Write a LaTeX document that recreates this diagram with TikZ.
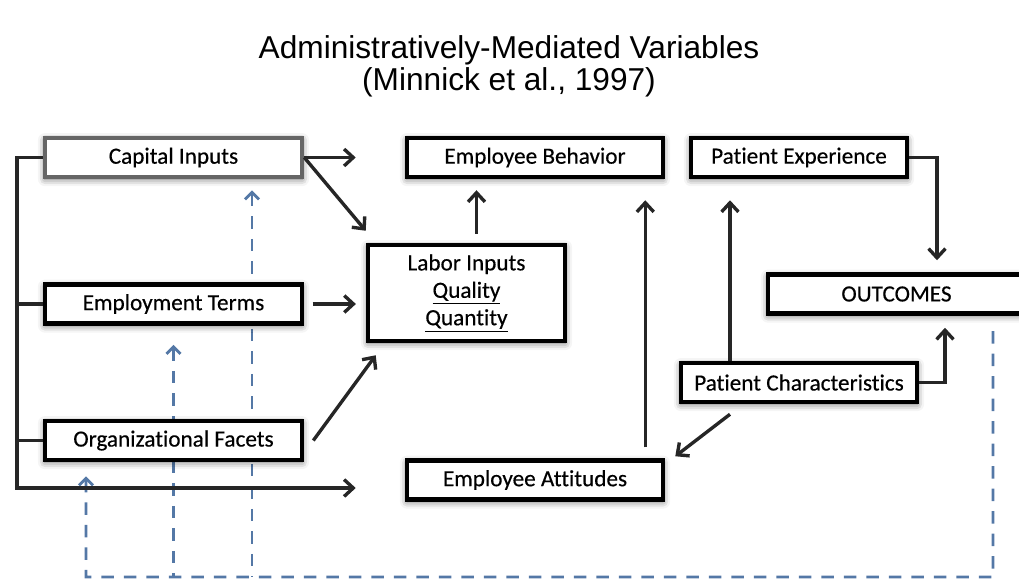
\documentclass[tikz,border=0pt]{standalone}
\usepackage{fontspec}
\setmainfont{Carlito}[Ligatures=NoCommon]
\newfontfamily\titlefont{Liberation Sans}
\usetikzlibrary{arrows.meta,shadows.blur,backgrounds}
\definecolor{fbblue}{RGB}{84,120,166}

\begin{document}
\begin{tikzpicture}[x=0.025cm,y=-0.025cm]
    \tikzstyle{box}=[draw, line width=3.2pt, fill=white, minimum width=6.425cm, minimum height=0.975cm, inner sep=0pt, font=\fontsize{16.5}{19.5}\selectfont\addfontfeature{FakeBold=0.4}, blur shadow={shadow xshift=0pt, shadow yshift=-1.5pt, shadow blur radius=5pt, shadow opacity=60}]
    \tikzstyle{arr}=[line width=2.4pt, black!85, -{Straight Barb[length=6.5pt,width=12pt]}]
    \tikzstyle{fb}=[line width=2.1pt, fbblue, dash pattern=on 9pt off 7pt]
    \tikzstyle{fbarr}=[fb, {Straight Barb[length=5pt,width=10pt]}-]

    \useasboundingbox (0,0) rectangle (1019,580);

    \node[font=\titlefont\fontsize{22.5}{22.8}\selectfont, align=center] (title) at (509,66) {Administratively-Mediated Variables\\(Minnick et al., 1997)};

    \node[box, draw=black!60] (cap) at (173.5,157.5) {Capital Inputs};
    \node[box] (emp) at (173.5,304) {Employment Terms};
    \node[box] (org) at (173.5,440.5) {Organizational Facets};
    \node[box, minimum width=4.925cm, minimum height=2.4cm, align=center] (labor) at (466.5,293) {Labor Inputs\\\underline{Quality}\\\underline{Quantity}};
    \node[box, minimum width=6.4cm] (behav) at (535,157.5) {Employee Behavior};
    \node[box, minimum width=6.4cm] (attit) at (535,480) {Employee Attitudes};
    \node[box, minimum width=5.4cm] (pexp) at (799,157.5) {Patient Experience};
    \node[box] (outc) at (896.5,294) {OUTCOMES};
    \node[box, minimum width=5.9cm] (pchar) at (799,382.5) {Patient Characteristics};

    \coordinate (bustop) at (17,157.5);
    \coordinate (busbot) at (17,488);
    \draw[arr] (cap.west) -- (bustop) -- (busbot) -- ([shift={(-49,8)}]attit.west);
    \draw[line width=2.4pt, black!85] (emp.west) -- (emp.west -| bustop);
    \draw[line width=2.4pt, black!85] (org.west) -- (org.west -| bustop);

    \draw[arr] (cap.east) -- ([shift={(-49,0)}]behav.west);
    \draw[arr] (cap.east) -- ([shift={(0,-12)}]labor.north west);
    \draw[arr, shorten <=6pt, shorten >=7pt] (emp.east) -- (emp.east -| labor.west);
    \draw[arr] ([shift={(9,0)}]org.east) -- ([shift={(10,12)}]labor.south west);

    \coordinate (lb) at ([shift={(10,-9)}]labor.north);
    \draw[arr, shorten >=7.8pt] (lb) -- (lb |- behav.south);
    \draw[arr] ([shift={(-20,-11)}]attit.north east) -- ([shift={(-20,21)}]behav.south east);
    \draw[arr] ([shift={(-69,0)}]pchar.north) -- ([shift={(-69,21)}]pexp.south);
    \draw[arr] ([shift={(-69,10)}]pchar.south) -- ([shift={(10,-2)}]attit.north east);
    \draw[arr] (pchar.east) -| ([shift={(48.5,12)}]outc.south);
    \draw[arr] (pexp.east) -| ([shift={(40.5,-12)}]outc.north);

    \begin{scope}[on background layer]
        \coordinate (fbr) at (993,577);
        \coordinate (fbc) at ([shift={(78.5,11)}]cap.south);
        \coordinate (fbe) at ([shift={(0,19)}]emp.south);
        \draw[fbarr] ([shift={(-87.5,14)}]org.south) |- (fbr) -- ([shift={(96.5,12)}]outc.south);
        \draw[fbarr] (fbe) -- (fbe |- fbr);
        \draw[fbarr] (fbc) -- (fbc |- fbr);
    \end{scope}
\end{tikzpicture}
\end{document}
